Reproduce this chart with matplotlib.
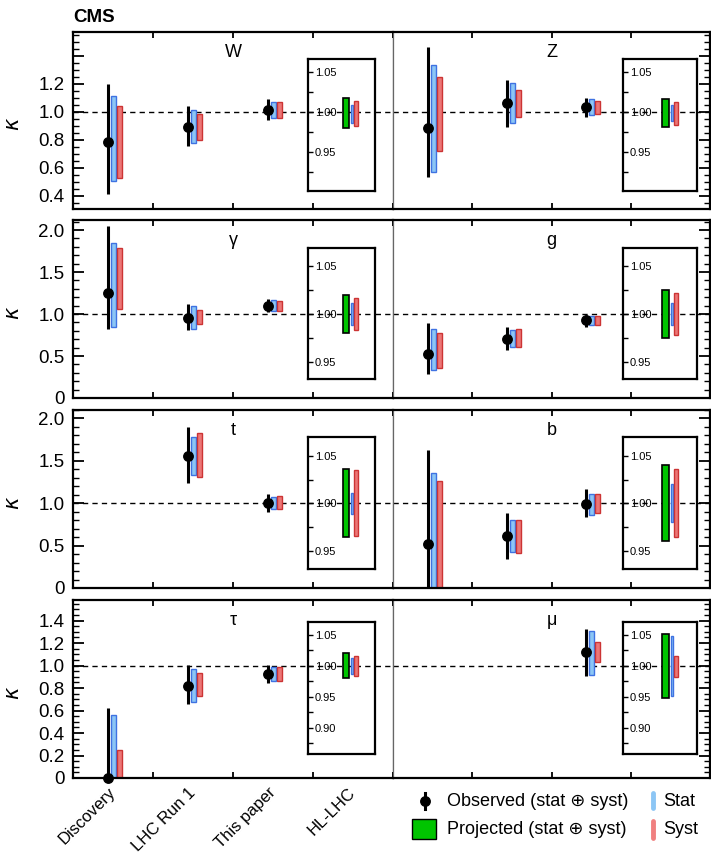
import numpy as np
import matplotlib
matplotlib.use('Agg')
import matplotlib.pyplot as plt
from matplotlib.ticker import MultipleLocator, FuncFormatter
from matplotlib.patches import Rectangle
from matplotlib.lines import Line2D

plt.rcParams['font.family'] = ['Liberation Sans', 'DejaVu Sans']
plt.rcParams['mathtext.fontset'] = 'dejavusans'

nan = np.nan

# --- datos ---
periods = ['Discovery', 'LHC Run 1', 'This paper', 'HL-LHC']
couplings = ['W', 'Z', 'γ', 'g', 't', 'b', 'τ', 'μ']

# observado: Discovery, LHC Run 1, This paper
obs_val = [[0.783, 0.895, 1.017], [0.888, 1.064, 1.033], [1.256, 0.957, 1.095], [0.523, 0.700, 0.925],
           [nan, 1.559, 1.008], [0.520, 0.614, 0.992], [0.000, 0.822, 0.923], [nan, nan, 1.124]]
obs_lo = [[0.414, 0.755, 0.940], [0.533, 0.895, 0.964], [0.818, 0.810, 1.020], [0.286, 0.574, 0.850],
          [nan, 1.236, 0.900], [-0.300, 0.346, 0.835], [0.000, 0.657, 0.843], [nan, nan, 0.908]]
obs_hi = [[1.200, 1.040, 1.090], [1.462, 1.231, 1.100], [2.053, 1.114, 1.174], [0.897, 0.850, 0.984],
          [nan, 1.894, 1.110], [1.630, 0.882, 1.165], [0.621, 1.006, 1.006], [nan, nan, 1.325]]
stat_lo = [[0.510, 0.779, 0.960], [0.569, 0.921, 0.979], [0.850, 0.822, 1.032], [0.337, 0.606, 0.866],
           [nan, 1.331, 0.929], [-0.200, 0.429, 0.862], [-0.100, 0.675, 0.867], [nan, nan, 0.914]]
stat_hi = [[1.112, 1.014, 1.071], [1.338, 1.207, 1.093], [1.848, 1.099, 1.162], [0.819, 0.807, 0.976],
           [nan, 1.776, 1.079], [1.354, 0.803, 1.114], [0.556, 0.970, 0.985], [nan, nan, 1.311]]
syst_lo = [[0.529, 0.802, 0.960], [0.724, 0.964, 0.986], [1.059, 0.878, 1.040], [0.353, 0.606, 0.866],
           [nan, 1.315, 0.929], [-0.200, 0.409, 0.882], [-0.100, 0.725, 0.867], [nan, nan, 1.036]]
syst_hi = [[1.045, 0.986, 1.071], [1.250, 1.160, 1.081], [1.789, 1.047, 1.150], [0.771, 0.819, 0.980],
           [nan, 1.827, 1.090], [1.264, 0.803, 1.110], [0.251, 0.938, 0.985], [nan, nan, 1.213]]

# proyeccion HL-LHC
proj_lo = [0.981, 0.982, 0.980, 0.975, 0.965, 0.960, 0.980, 0.9486]
proj_hi = [1.018, 1.017, 1.020, 1.025, 1.036, 1.0405, 1.0205, 1.0508]
proj_stat_lo = [0.987, 0.989, 0.989, 0.989, 0.989, 0.980, 0.987, 0.9514]
proj_stat_hi = [1.0096, 1.0096, 1.011, 1.011, 1.011, 1.020, 1.0124, 1.0476]
proj_syst_lo = [0.983, 0.984, 0.983, 0.978, 0.966, 0.965, 0.983, 0.982]
proj_syst_hi = [1.0148, 1.013, 1.017, 1.022, 1.0345, 1.036, 1.016, 1.0168]

# ejes por fila
row_ylim = [(0.307, 1.571), (0, 2.12), (0, 2.1), (0, 1.583)]
row_major = [0.2, 0.5, 0.5, 0.2]
row_minor = [0.05, 0.1, 0.1, 0.05]
row_label_max = [1.2, 2.0, 2.0, 1.4]
inset_ylim = [(0.9015, 1.067), (0.932, 1.069), (0.931, 1.070), (0.858, 1.0705)]
inset_labels = [[0.95, 1.00, 1.05], [0.95, 1.00, 1.05], [0.95, 1.00, 1.05], [0.90, 0.95, 1.00, 1.05]]

# colores
STAT_FILL, STAT_EDGE = '#8cc6f5', '#3f72e2'
SYST_FILL, SYST_EDGE = '#ec7676', '#cc3434'
GREEN = '#00c400'

# --- layout en pixeles ---
W_PX, H_PX = 711, 856
fig = plt.figure(figsize=(W_PX / 100, H_PX / 100), dpi=100)


def fx(x):
    return x / W_PX


def fy(y):
    return 1 - y / H_PX


col_px = [(73, 393), (393, 710)]
row_px = [(32, 209), (220, 398), (410, 588), (600, 778)]
inset_x = [(2.94, 3.775), (2.906, 3.84)]
inset_y = [(0.102, 0.746), (0.105, 0.739), (0.107, 0.743), (0.135, 0.74)]

dash = (0, (3.8, 3.0))

for k, name in enumerate(couplings):
    r, c = divmod(k, 2)
    x0, x1 = col_px[c]
    top, bot = row_px[r]
    ax = fig.add_axes([fx(x0), fy(bot), (x1 - x0) / W_PX, (bot - top) / H_PX])
    ax.set_xlim(0, 4)
    ax.set_ylim(*row_ylim[r])
    ax.axhline(1.0, color='black', ls=dash, lw=1.0, zorder=1)

    idx = np.arange(3)
    v = np.array(obs_val[k])
    ok = ~np.isnan(v)
    slo, shi = np.array(stat_lo[k]), np.array(stat_hi[k])
    ylo, yhi = np.array(syst_lo[k]), np.array(syst_hi[k])
    olo, ohi = np.array(obs_lo[k]), np.array(obs_hi[k])
    ax.bar(idx[ok] + 0.507, (shi - slo)[ok], bottom=slo[ok], width=0.062,
           color=STAT_FILL, edgecolor=STAT_EDGE, lw=1.0, zorder=2)
    ax.bar(idx[ok] + 0.582, (yhi - ylo)[ok], bottom=ylo[ok], width=0.062,
           color=SYST_FILL, edgecolor=SYST_EDGE, lw=1.0, zorder=2)
    ax.vlines(idx[ok] + 0.44, olo[ok], ohi[ok], color='black', lw=2.2, zorder=3)
    ax.plot(idx[ok] + 0.44, v[ok], 'o', color='black', ms=6.8, zorder=4, clip_on=False)

    # bordes
    for s in ax.spines.values():
        s.set_linewidth(1.6)
        s.set_color('black')
    inner = 'right' if c == 0 else 'left'
    ax.spines[inner].set_linewidth(0.9)
    ax.spines[inner].set_color('#666666')

    # ticks
    ax.xaxis.set_major_locator(MultipleLocator(1))
    ax.tick_params(axis='x', which='major', direction='in', top=True, bottom=True,
                   length=4.5, width=1.3, labelbottom=False)
    ax.yaxis.set_major_locator(MultipleLocator(row_major[r]))
    ax.yaxis.set_minor_locator(MultipleLocator(row_minor[r]))
    m = row_label_max[r]
    ax.yaxis.set_major_formatter(FuncFormatter(
        lambda val, p, m=m: '' if val > m + 1e-6 else ('0' if abs(val) < 1e-6 else f'{val:.1f}')))
    ax.tick_params(axis='y', which='major', direction='in', length=8, width=1.3,
                   left=(c == 0), right=(c == 1), labelleft=(c == 0), labelsize=13.5, pad=6)
    ax.tick_params(axis='y', which='minor', direction='in', length=4.5, width=1.0,
                   left=(c == 0), right=(c == 1))

    if c == 0:
        ax.set_ylabel(r'$\kappa$', fontsize=15)
        ax.yaxis.set_label_coords(-0.155, 0.48)

    if r == 3 and c == 0:
        ax.set_xticks(np.arange(4) + 0.565, minor=True)
        ax.set_xticklabels(periods, minor=True, rotation=45, ha='right', fontsize=12)
        ax.tick_params(axis='x', which='minor', length=0, pad=5, labelbottom=True)

    ax.text(2.0, 0.935, name, transform=ax.get_xaxis_transform(), ha='center', va='top',
            fontsize=13)

    # inset HL-LHC
    ix0, ix1 = inset_x[c]
    iy0, ih = inset_y[r]
    ins = ax.inset_axes([ix0 / 4, iy0, (ix1 - ix0) / 4, ih])
    ins.set_xlim(0, 1)
    ins.set_ylim(*inset_ylim[r])
    ins.axhline(1.0, color='black', ls=dash, lw=1.0, zorder=1)
    ins.bar(0.57, proj_hi[k] - proj_lo[k], bottom=proj_lo[k], width=0.09,
            color=GREEN, edgecolor='black', lw=1.2, zorder=2)
    ins.bar(0.6575, proj_stat_hi[k] - proj_stat_lo[k], bottom=proj_stat_lo[k], width=0.035,
            color=STAT_FILL, edgecolor=STAT_EDGE, lw=1.0, zorder=2)
    ins.bar(0.715, proj_syst_hi[k] - proj_syst_lo[k], bottom=proj_syst_lo[k], width=0.05,
            color=SYST_FILL, edgecolor=SYST_EDGE, lw=1.0, zorder=2)
    ins.set_xticks([])
    labs = inset_labels[r]
    ins.set_yticks(labs)
    ins.set_yticklabels([f'{t:.2f}' for t in labs], fontsize=8, ha='left')
    lo_i, hi_i = inset_ylim[r]
    ins.set_yticks([t + 0.025 for t in labs if t + 0.025 < hi_i] +
                   ([labs[0] - 0.025] if labs[0] - 0.025 > lo_i else []), minor=True)
    ins.tick_params(axis='y', which='both', direction='in', length=3.5, width=1.0)
    ins.tick_params(axis='y', which='major', pad=-4.8)
    for s in ins.spines.values():
        s.set_linewidth(1.6)

# CMS
fig.text(fx(73), fy(18), 'CMS', fontweight='bold', fontsize=13.5, va='center', ha='left')

# leyenda manual
tf = fig.transFigure
fig.add_artist(Line2D([fx(425)] * 2, [fy(793), fy(809)], color='black', lw=2.2, transform=tf))
fig.add_artist(Line2D([fx(425)], [fy(801)], marker='o', ms=6.8, color='black', transform=tf))
fig.add_artist(Rectangle((fx(411.7), fy(839)), fx(436) - fx(411.7), fy(819) - fy(839),
                         facecolor=GREEN, edgecolor='black', lw=1.0, transform=tf))
fig.add_artist(Line2D([fx(653)] * 2, [fy(793), fy(808)], color=STAT_FILL, lw=3.5,
                      solid_capstyle='round', transform=tf))
fig.add_artist(Line2D([fx(653)] * 2, [fy(821), fy(838)], color='#f08080', lw=3.5,
                      solid_capstyle='round', transform=tf))
fig.text(fx(446.7), fy(801), 'Observed (stat ⊕ syst)', fontsize=13, va='center', ha='left')
fig.text(fx(446.7), fy(829), 'Projected (stat ⊕ syst)', fontsize=13, va='center', ha='left')
fig.text(fx(663.3), fy(801), 'Stat', fontsize=13, va='center', ha='left')
fig.text(fx(663.3), fy(829), 'Syst', fontsize=13, va='center', ha='left')

plt.savefig('out.png', dpi=100)
plt.close()
